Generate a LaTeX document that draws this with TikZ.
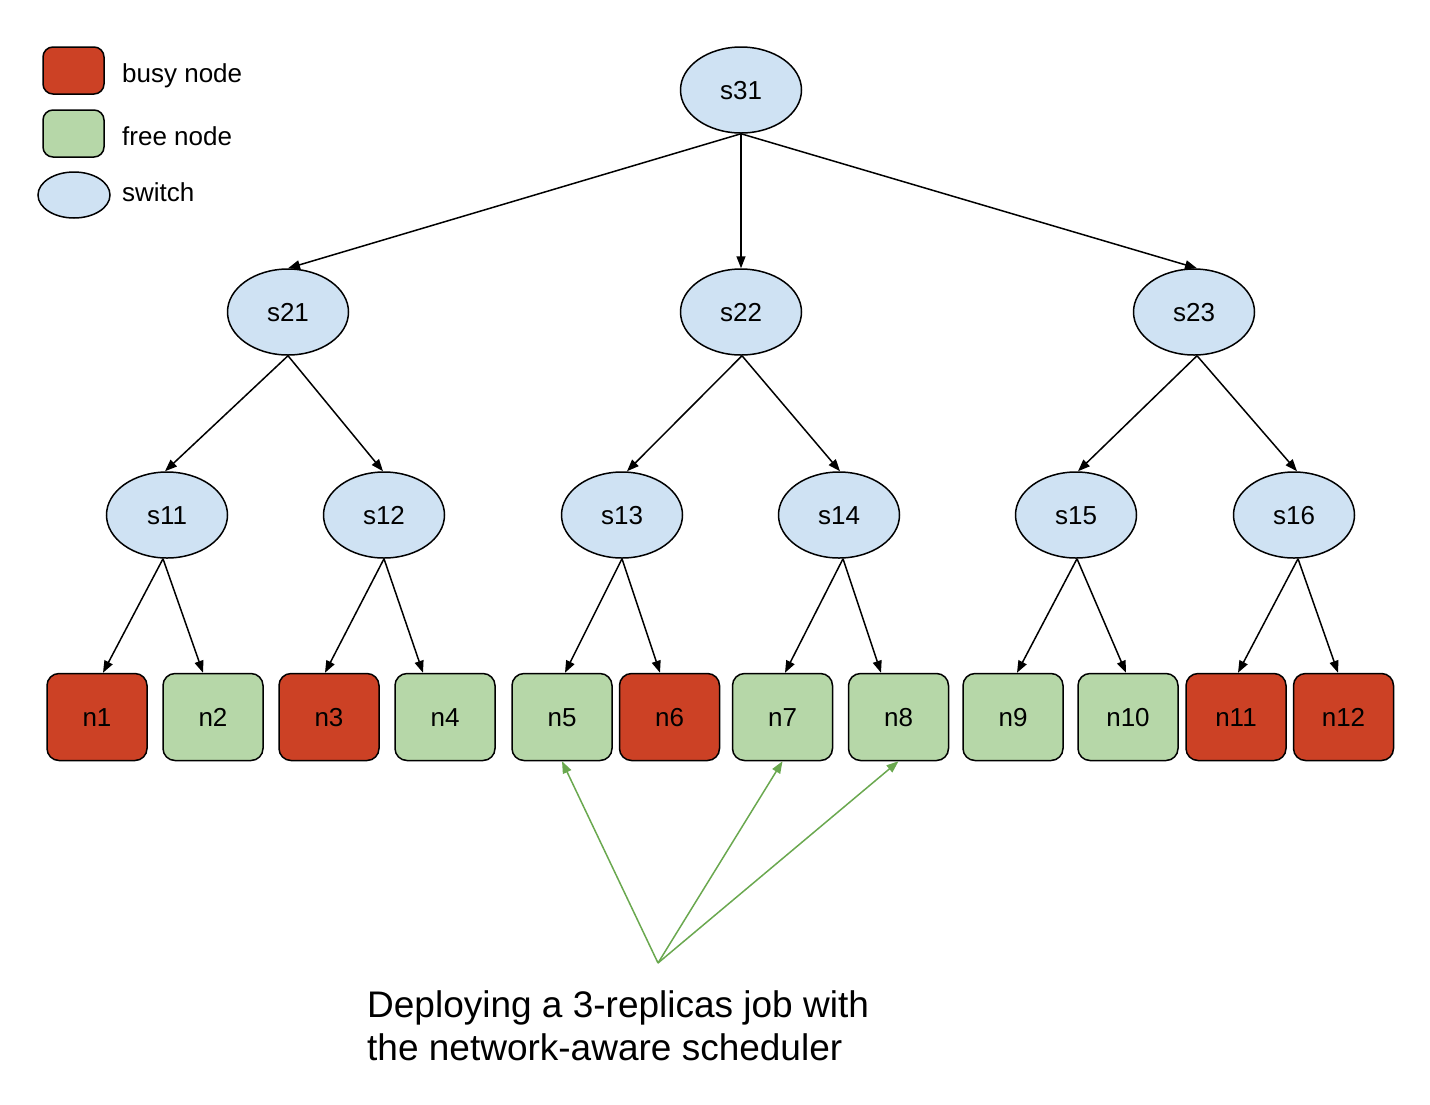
\documentclass[tikz,border=0pt]{standalone}
\usepackage{fontspec}
\setmainfont{Liberation Sans}
\usetikzlibrary{arrows.meta,shapes.geometric}
\definecolor{busyred}{HTML}{CC4125}
\definecolor{freegreen}{HTML}{B6D7A8}
\definecolor{switchblue}{HTML}{CFE2F3}
\definecolor{jobgreen}{HTML}{6AA84F}

\begin{document}
\begin{tikzpicture}[x=1pt,y=-1pt,font=\fontsize{26}{30}\selectfont,
    switch/.style={ellipse,draw,line width=1.5pt,fill=switchblue,minimum width=121pt,minimum height=86pt,inner sep=0pt,text height=19pt,text depth=0pt},
    busy/.style={rectangle,draw,rounded corners=12pt,line width=1.5pt,fill=busyred,minimum width=100pt,minimum height=87pt,inner sep=0pt,text height=19pt,text depth=0pt},
    free/.style={busy,fill=freegreen},
    link/.style={line width=1.5pt,-{Triangle[length=12pt,width=9pt]}},
    job/.style={line width=1.5pt,jobgreen,-{Triangle[length=12pt,width=9pt]}}]
    \useasboundingbox (0,0) rectangle (1430,1104);
    % Legend
    \node[busy,minimum width=61pt,minimum height=47pt,rounded corners=10pt] (lbusy) at (73.5,70.5) {};
    \node[free,minimum width=61pt,minimum height=47pt,rounded corners=10pt] (lfree) at (73.5,133.5) {};
    \node[switch,minimum width=72pt,minimum height=46pt] (lswitch) at (74,195) {};
    \node[anchor=base west,inner sep=0pt] (tbusy) at (122,82) {busy node};
    \node[anchor=base west,inner sep=0pt] (tfree) at (122,145) {free node};
    \node[anchor=base west,inner sep=0pt] (tswitch) at (122,201) {switch};
    % Switches
    \node[switch] (s31) at (741,90) {s31};
    \foreach \name/\x in {s21/288,s22/741,s23/1194}
      \node[switch] (\name) at (\x,312) {\name};
    \foreach \name/\x in {s11/167,s12/384,s13/622,s14/839,s15/1076,s16/1294}
      \node[switch] (\name) at (\x,515) {\name};
    % Nodes
    \foreach \name/\x/\kind in {n1/97/busy,n2/213/free,n3/329/busy,n4/445/free,n5/562/free,n6/669.5/busy,
        n7/782.5/free,n8/898.5/free,n9/1013/free,n10/1128/free,n11/1236/busy,n12/1343.5/busy}
      \node[\kind] (\name) at (\x,717) {\name};
    % Links
    \draw[link] (s31.south) -- (s21.north);
    \draw[link] (s31.south) -- (s22.north);
    \draw[link] (s31.south) -- ([xshift=3pt]s23.north);
    \draw[link] (s21.south) -- ([xshift=-2pt]s11.north);
    \draw[link] (s21.south) -- ([xshift=-1pt]s12.north);
    \draw[link] ([xshift=1pt]s22.south) -- ([xshift=5pt]s13.north);
    \draw[link] ([xshift=1pt]s22.south) -- ([xshift=1pt]s14.north);
    \draw[link] ([xshift=3pt]s23.south) -- ([xshift=2pt]s15.north);
    \draw[link] ([xshift=3pt]s23.south) -- ([xshift=3pt]s16.north);
    \draw[link] ([xshift=-4pt]s11.south) -- ([xshift=6pt]n1.north);
    \draw[link] ([xshift=-4pt]s11.south) -- ([xshift=-10pt]n2.north);
    \draw[link] (s12.south) -- ([xshift=-4pt]n3.north);
    \draw[link] (s12.south) -- ([xshift=-22pt]n4.north);
    \draw[link] (s13.south) -- ([xshift=3pt]n5.north);
    \draw[link] (s13.south) -- ([xshift=-9.5pt]n6.north);
    \draw[link] ([xshift=4pt]s14.south) -- ([xshift=2.5pt]n7.north);
    \draw[link] ([xshift=4pt]s14.south) -- ([xshift=-17.5pt]n8.north);
    \draw[link] ([xshift=1pt]s15.south) -- ([xshift=4pt]n9.north);
    \draw[link] ([xshift=1pt]s15.south) -- ([xshift=-2pt]n10.north);
    \draw[link] ([xshift=4pt]s16.south) -- ([xshift=2pt]n11.north);
    \draw[link] ([xshift=4pt]s16.south) -- ([xshift=-5.5pt]n12.north);
    % Job
    \coordinate (job) at (658,963);
    \draw[job] (job) -- (n5.south);
    \draw[job] (job) -- (n7.south);
    \draw[job] (job) -- (n8.south);
    \node[anchor=base west,inner sep=0pt,align=left,font=\fontsize{37}{43}\selectfont] (caption) at (367,1060)
      {Deploying a 3-replicas job with\\the network-aware scheduler};
\end{tikzpicture}
\end{document}
